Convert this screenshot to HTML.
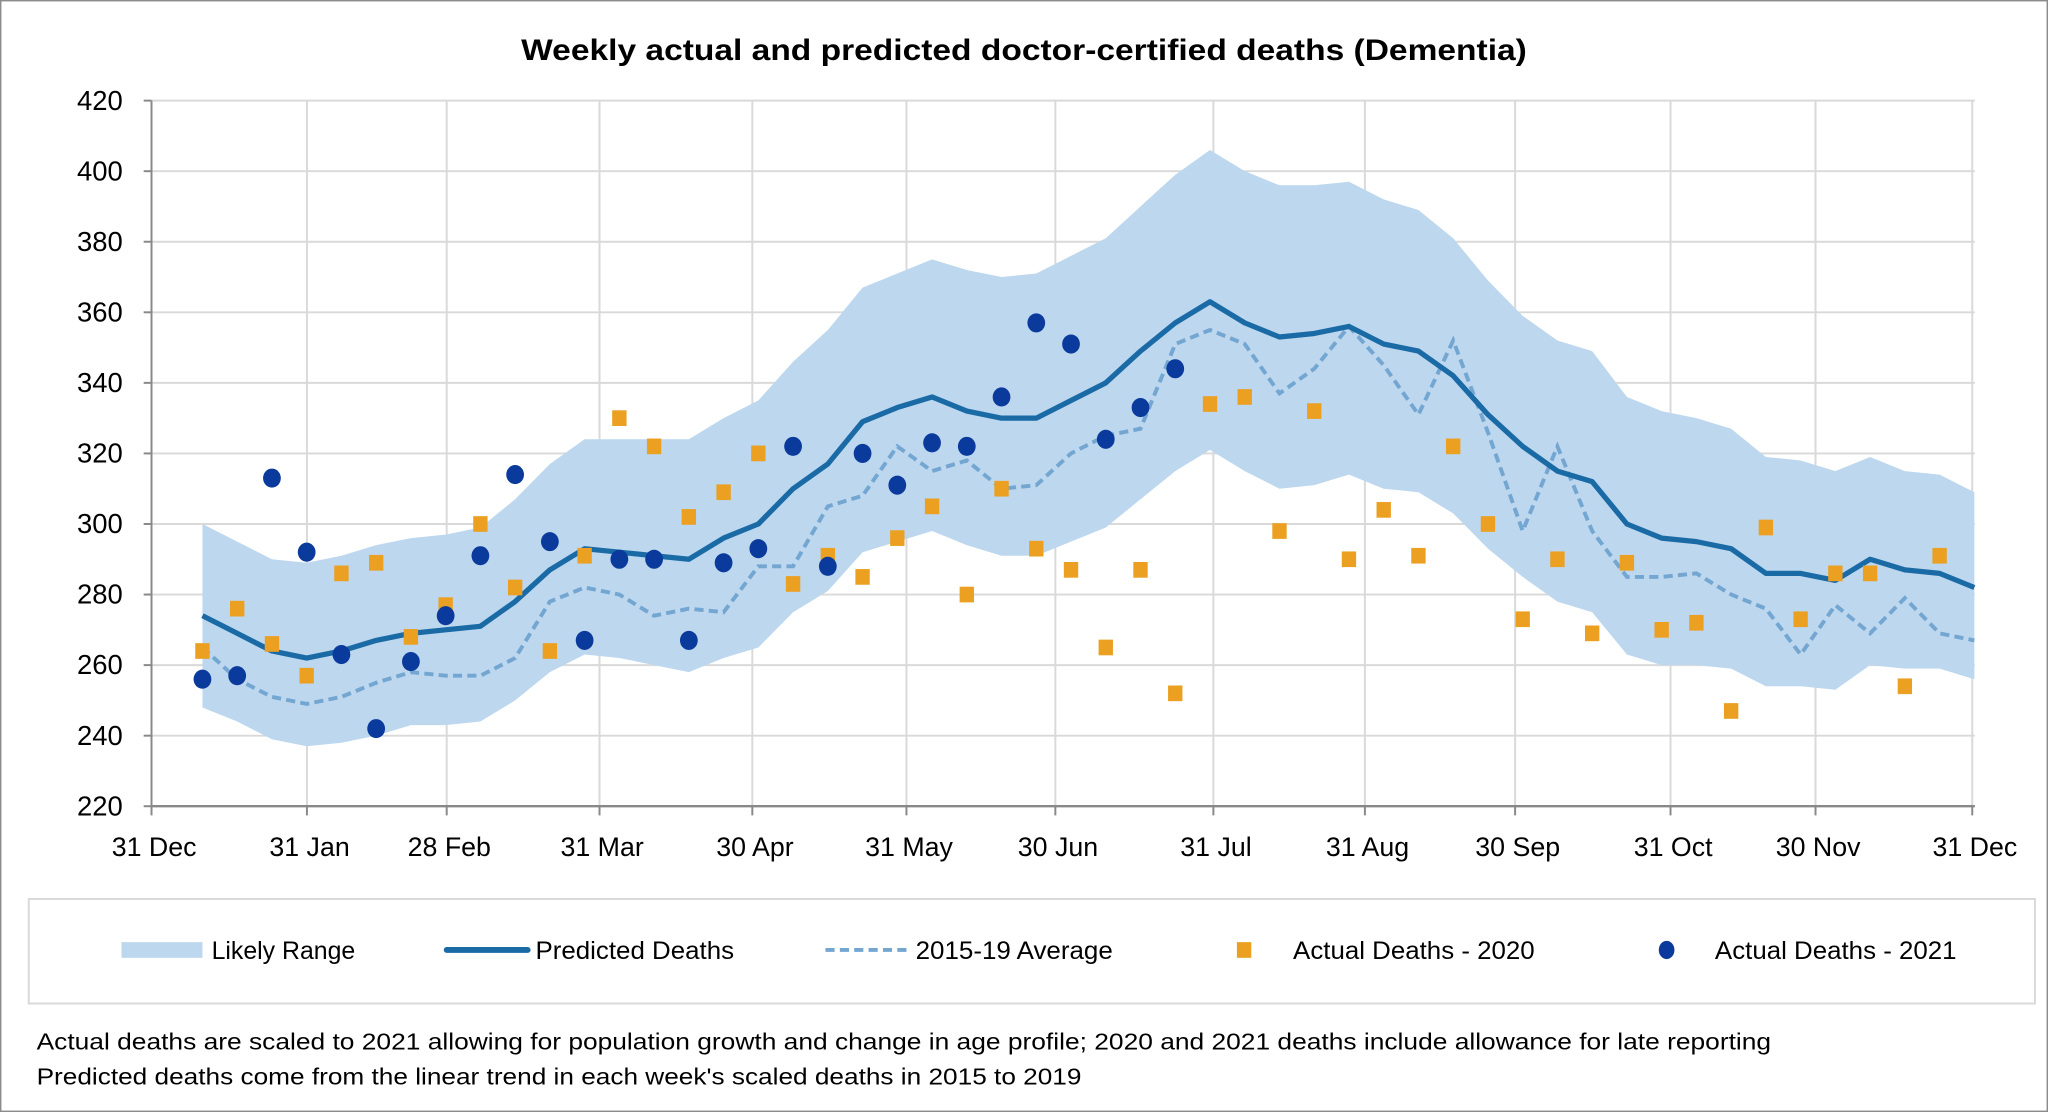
<!DOCTYPE html>
<html><head><meta charset="utf-8"><style>
html,body{margin:0;padding:0;background:#fff;}
svg{display:block;}
text{font-family:"Liberation Sans",sans-serif;fill:#000;}
</style></head><body>
<svg id="s" width="2048" height="1112" viewBox="0 0 1568 851" preserveAspectRatio="none" xmlns="http://www.w3.org/2000/svg">
<rect x="0.5" y="0.5" width="1567" height="850" fill="#fff" stroke="#8c8c8c" stroke-width="1.2"/>
<text x="784" y="46" text-anchor="middle" font-size="23" font-weight="bold" textLength="770" lengthAdjust="spacingAndGlyphs">Weekly actual and predicted doctor-certified deaths (Dementia)</text>
<g id="grid"></g>
<g id="data"></g>
<rect x="22" y="688" width="1536" height="80" fill="none" stroke="#d9d9d9" stroke-width="1.5"/>
<rect x="93" y="721" width="62" height="12" fill="#bdd7ee"/>
<text x="162" y="734" font-size="19" textLength="110" lengthAdjust="spacingAndGlyphs">Likely Range</text>
<line x1="342" y1="727" x2="404" y2="727" stroke="#1a6aa6" stroke-width="4.5" stroke-linecap="round"/>
<text x="410" y="734" font-size="19" textLength="152" lengthAdjust="spacingAndGlyphs">Predicted Deaths</text>
<line x1="632" y1="727" x2="694" y2="727" stroke="#74a6d2" stroke-width="3" stroke-dasharray="7,4"/>
<text x="701" y="734" font-size="19" textLength="151" lengthAdjust="spacingAndGlyphs">2015-19 Average</text>
<rect x="947" y="721" width="11" height="12" fill="#eba022"/>
<text x="990" y="734" font-size="19" textLength="185" lengthAdjust="spacingAndGlyphs">Actual Deaths - 2020</text>
<ellipse cx="1276" cy="727" rx="6" ry="7" fill="#0a3a9b"/>
<text x="1313" y="734" font-size="19" textLength="185" lengthAdjust="spacingAndGlyphs">Actual Deaths - 2021</text>
<text x="28" y="803" font-size="17.5" textLength="1328" lengthAdjust="spacingAndGlyphs">Actual deaths are scaled to 2021 allowing for population growth and change in age profile; 2020 and 2021 deaths include allowance for late reporting</text>
<text x="28" y="830" font-size="17.5" textLength="800" lengthAdjust="spacingAndGlyphs">Predicted deaths come from the linear trend in each week's scaled deaths in 2015 to 2019</text>
</svg>
<script>
var NS="http://www.w3.org/2000/svg";
function el(p,t,a,txt){var e=document.createElementNS(NS,t);for(var k in a)e.setAttribute(k,a[k]);if(txt!==undefined)e.textContent=txt;p.appendChild(e);return e;}
var g=document.getElementById("grid"),d=document.getElementById("data");
var X0=116,X1=1512;
function Y(v){return 617-(v-220)*2.7;}
function XI(i){return 155+26.6*i;}
var xt=[[116,"31 Dec"],[235,"31 Jan"],[342,"28 Feb"],[459,"31 Mar"],[576,"30 Apr"],[694,"31 May"],[808,"30 Jun"],[929,"31 Jul"],[1045,"31 Aug"],[1160,"30 Sep"],[1279,"31 Oct"],[1390,"30 Nov"],[1510,"31 Dec"]];
for(var v=240;v<=420;v+=20)el(g,"line",{x1:X0,x2:X1,y1:Y(v),y2:Y(v),stroke:"#d9d9d9","stroke-width":1.5});
xt.forEach(function(t,i){if(i>0)el(g,"line",{x1:t[0],x2:t[0],y1:Y(420),y2:Y(220),stroke:"#d9d9d9","stroke-width":1.5});});
for(var v=220;v<=420;v+=20){el(g,"line",{x1:X0-6,x2:X0,y1:Y(v),y2:Y(v),stroke:"#888","stroke-width":1.5});el(g,"text",{x:94,y:Y(v)+7,"font-size":21,"text-anchor":"end"},v);}
var up=[300,295,290,289,291,294,296,297,299,307,317,324,324,324,324,330,335,346,355,367,371,375,372,370,371,376,381,390,399,406,400,396,396,397,392,389,381,369,359,352,349,336,332,330,327,319,318,315,319,315,314,309];
var lo=[248,244,239,237,238,240,243,243,244,250,258,263,262,260,258,262,265,275,281,292,295,298,294,291,291,295,299,307,315,321,315,310,311,314,310,309,303,293,285,278,275,263,260,260,259,254,254,253,260,259,259,256];
var pr=[274,269,264,262,264,267,269,270,271,278,287,293,292,291,290,296,300,310,317,329,333,336,332,330,330,335,340,349,357,363,357,353,354,356,351,349,342,331,322,315,312,300,296,295,293,286,286,284,290,287,286,282];
var av=[265,256,251,249,251,255,258,257,257,262,278,282,280,274,276,275,288,288,305,308,322,315,318,310,311,320,325,327,351,355,351,337,344,356,345,331,352,326,298,322,298,285,285,286,280,276,263,277,269,279,269,267];
var a20=[264,276,266,257,286,289,268,277,300,282,264,291,330,322,302,309,320,283,291,285,296,305,280,310,293,287,265,287,252,334,336,298,332,290,304,291,322,300,273,290,269,289,270,272,247,299,273,286,286,254,291];
var a21=[256,257,313,292,263,242,261,274,291,314,295,267,290,290,267,289,293,322,288,320,311,323,322,336,357,351,324,333,344];
var pts=[];up.forEach(function(v,i){pts.push(XI(i).toFixed(1)+","+Y(v).toFixed(1));});
for(var i=lo.length-1;i>=0;i--)pts.push(XI(i).toFixed(1)+","+Y(lo[i]).toFixed(1));
el(d,"polygon",{points:pts.join(" "),fill:"#bdd7ee"});
function line(arr){return arr.map(function(v,i){return XI(i).toFixed(1)+","+Y(v).toFixed(1);}).join(" ");}
el(d,"polyline",{points:line(av),fill:"none",stroke:"#74a6d2","stroke-width":3,"stroke-dasharray":"7,4"});
el(d,"polyline",{points:line(pr),fill:"none",stroke:"#1a6aa6","stroke-width":4,"stroke-linejoin":"round"});
a20.forEach(function(v,i){el(d,"rect",{x:XI(i)-5.5,y:Y(v)-6,width:11,height:12,fill:"#eba022"});});
a21.forEach(function(v,i){el(d,"ellipse",{cx:XI(i),cy:Y(v),rx:6.8,ry:7.3,fill:"#0a3a9b"});});
el(d,"line",{x1:X0,x2:X0,y1:Y(420),y2:Y(220),stroke:"#888","stroke-width":1.5});
el(d,"line",{x1:X0,x2:X1,y1:Y(220),y2:Y(220),stroke:"#888","stroke-width":1.8});
xt.forEach(function(t){el(d,"line",{x1:t[0],x2:t[0],y1:Y(220),y2:Y(220)+7,stroke:"#888","stroke-width":1.5});el(d,"text",{x:t[0]+2,y:655,"font-size":20.5,"text-anchor":"middle"},t[1]);});
</script>
</body></html>
